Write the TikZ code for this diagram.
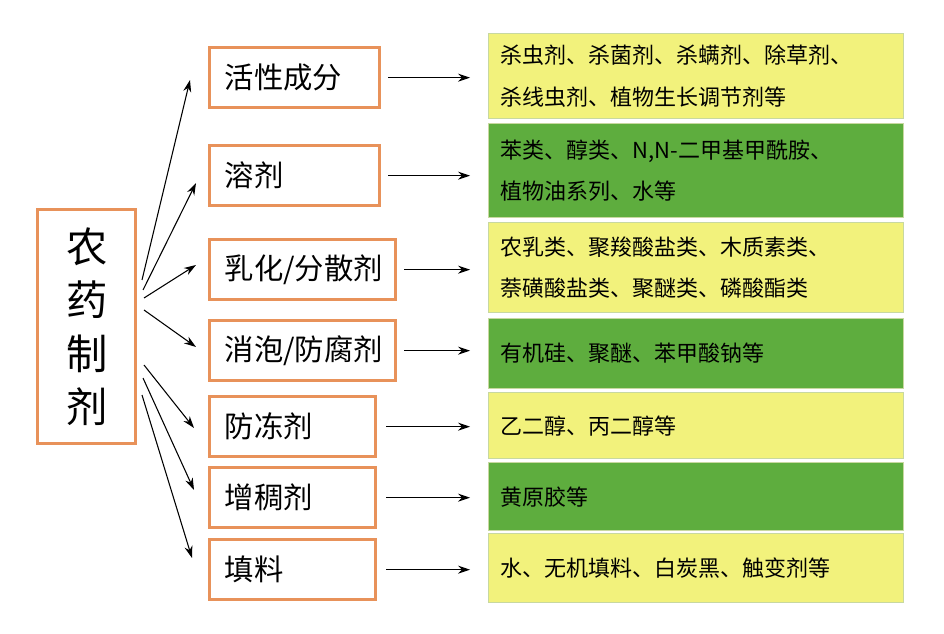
\documentclass[tikz,border=0pt]{standalone}
\usepackage{fontspec}
\setmainfont{Noto Sans CJK SC}
\usetikzlibrary{arrows.meta}
\definecolor{org}{HTML}{E8925A}
\definecolor{yel}{HTML}{F2F27C}
\definecolor{grn}{HTML}{5EAD3E}
\definecolor{brd}{HTML}{C8D8A0}
\tikzset{
 mid/.style={draw=org,line width=2.5pt,fill=white,anchor=north west,inner sep=0pt},
 yb/.style={draw=brd,line width=1pt,fill=yel,anchor=north west,inner sep=0pt},
 gb/.style={draw=brd,line width=1pt,fill=grn,anchor=north west,inner sep=0pt},
 rt/.style={font=\fontsize{16.5}{31}\selectfont,anchor=west,align=left},
 arr/.style={-{Stealth[length=9pt,width=6pt]},line width=0.8pt}
}
\begin{document}
\begin{tikzpicture}[x=0.75pt,y=-0.75pt]
\useasboundingbox[fill=white] (0,0) rectangle (944,634);
% main
\node[draw=org,line width=2.5pt,fill=white,anchor=north west,minimum width=98*0.75pt,minimum height=234*0.75pt,inner sep=0pt,font=\fontsize{31}{40}\selectfont,align=center] (m) at (36,208) {农\\药\\制\\剂};
% middle
\foreach \n/\y/\w/\t in {a/46/170/{活性成分},b/144/170/{溶剂},c/238/186/{乳化/分散剂},d/319/186/{消泡/防腐剂},e/395/166/{防冻剂},f/466/166/{增稠剂},g/538/166/{填料}}{
 \node[mid,minimum width=\w*0.75pt,minimum height=60*0.75pt] (\n) at (208,\y) {};
 \node[anchor=west,font=\fontsize{22}{24}\selectfont] at ([xshift=9pt]\n.west) {\t};
}
% right
\node[yb,minimum width=415*0.75pt,minimum height=85*0.75pt] (ra) at (488,33) {};
\node[gb,minimum width=415*0.75pt,minimum height=94*0.75pt] (rb) at (488,123) {};
\node[yb,minimum width=415*0.75pt,minimum height=90*0.75pt] (rc) at (488,222) {};
\node[gb,minimum width=415*0.75pt,minimum height=70*0.75pt] (rd) at (488,318) {};
\node[yb,minimum width=415*0.75pt,minimum height=66*0.75pt] (re) at (488,392) {};
\node[gb,minimum width=415*0.75pt,minimum height=68*0.75pt] (rf) at (488,462) {};
\node[yb,minimum width=415*0.75pt,minimum height=69*0.75pt] (rg) at (488,533) {};
\node[rt] at ([xshift=6pt]ra.west) {杀虫剂、杀菌剂、杀螨剂、除草剂、\\杀线虫剂、植物生长调节剂等};
\node[rt] at ([xshift=6pt]rb.west) {苯类、醇类、N,N-二甲基甲酰胺、\\植物油系列、水等};
\node[rt] at ([xshift=6pt]rc.west) {农乳类、聚羧酸盐类、木质素类、\\萘磺酸盐类、聚醚类、磷酸酯类};
\node[rt] at ([xshift=6pt]rd.west) {有机硅、聚醚、苯甲酸钠等};
\node[rt] at ([xshift=6pt]re.west) {乙二醇、丙二醇等};
\node[rt] at ([xshift=6pt]rf.west) {黄原胶等};
\node[rt] at ([xshift=6pt]rg.west) {水、无机填料、白炭黑、触变剂等};
% arrows left
\coordinate (s1) at (142,280); \coordinate (s2) at (143,290); \coordinate (s3) at (144,298);
\coordinate (s4) at (144,310); \coordinate (s5) at (144,365); \coordinate (s6) at (143,378); \coordinate (s7) at (142,395);
\draw[arr] (s1) -- (190,80);
\draw[arr] (s2) -- (196,183);
\draw[arr] (s3) -- (196,265);
\draw[arr] (s4) -- (196,347);
\draw[arr] (s5) -- (194,428);
\draw[arr] (s6) -- (194,490);
\draw[arr] (s7) -- (192,558);
% arrows right
\foreach \n/\x in {a/388,b/388,c/404,d/404,e/386,f/386,g/386}{
 \draw[arr] (\x,0 |- \n.east) -- (470,0 |- \n.east);
}
\end{tikzpicture}
\end{document}
